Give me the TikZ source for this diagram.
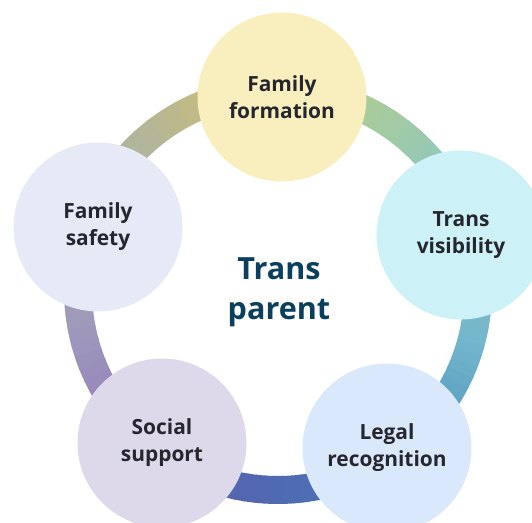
\documentclass[tikz,border=0pt]{standalone}
\usepackage{fontspec}
\setmainfont{Open Sans}
\usepackage{tikz}

% fills of the five circles
\definecolor{formfill}{HTML}{F9EEBE}
\definecolor{visfill}{HTML}{CCF2F7}
\definecolor{legalfill}{HTML}{D9E8FA}
\definecolor{socialfill}{HTML}{DDD9EB}
\definecolor{safetyfill}{HTML}{E6EAF6}
\definecolor{labelink}{HTML}{26262E}
\definecolor{hubink}{HTML}{0B3F5E}
% colours round the ring
\definecolor{ringA}{HTML}{D1C06C}
\definecolor{ringB}{HTML}{A9B2A9}
\definecolor{ringC}{HTML}{9D96BC}
\definecolor{ringD}{HTML}{8F72B7}
\definecolor{ringE}{HTML}{5366B0}
\definecolor{ringF}{HTML}{4A71B3}
\definecolor{ringG}{HTML}{4A8FBA}
\definecolor{ringH}{HTML}{74B6CC}
\definecolor{ringI}{HTML}{95C8B6}
\definecolor{ringJ}{HTML}{BED07A}

\tikzset{
  topic/.style={circle, minimum size=3.38cm, inner sep=0pt, align=center,
    text=labelink, font=\bfseries\fontsize{11.9}{15.3}\selectfont},
}

\begin{document}
\begin{tikzpicture}[x=0.02cm, y=0.02cm]
  \clip (0,0) rectangle (532,-523);
  \coordinate (hubpt) at (278,-290);

  % ring, drawn as short arcs so the colour can run round it
  \foreach \a/\c [remember=\a as \pa (initially 92), remember=\c as \pc (initially ringA)] in
      {145/ringB, 195/ringC, 235/ringD, 258/ringE, 290/ringF, 308/ringG, 345/ringH, 400/ringI, 448/ringJ}
  {
    \foreach \k in {0,...,11}
    {
      \pgfmathsetmacro\sa{\pa+(\a-\pa)*\k/12}
      \pgfmathsetmacro\ea{\pa+(\a-\pa)*(\k+1)/12+0.4}
      \pgfmathtruncatemacro\mixp{100*(\k+0.5)/12}
      \colorlet{segcol}{\c!\mixp!\pc}
      \draw[line width=0.56cm, segcol] (hubpt) ++(\sa:200) arc[start angle=\sa, end angle=\ea, radius=200];
    }
  }

  % the five topics
  \node[topic, fill=formfill] (form) at (282,-97) {Family\\formation};
  \node[topic, fill=visfill] (vis) at (461,-235) {Trans\\visibility};
  \node[topic, fill=legalfill] (legal) at (387,-448) {Legal\\recognition};
  \node[topic, fill=socialfill] (social) at (162,-443) {Social\\support};
  \node[topic, fill=safetyfill] (safety) at (98,-227) {Family\\safety};

  % centre
  \node[text=hubink, align=center, font=\bfseries\fontsize{17.4}{22.5}\selectfont] (hub) at (279,-292) {Trans\\parent};
\end{tikzpicture}
\end{document}
